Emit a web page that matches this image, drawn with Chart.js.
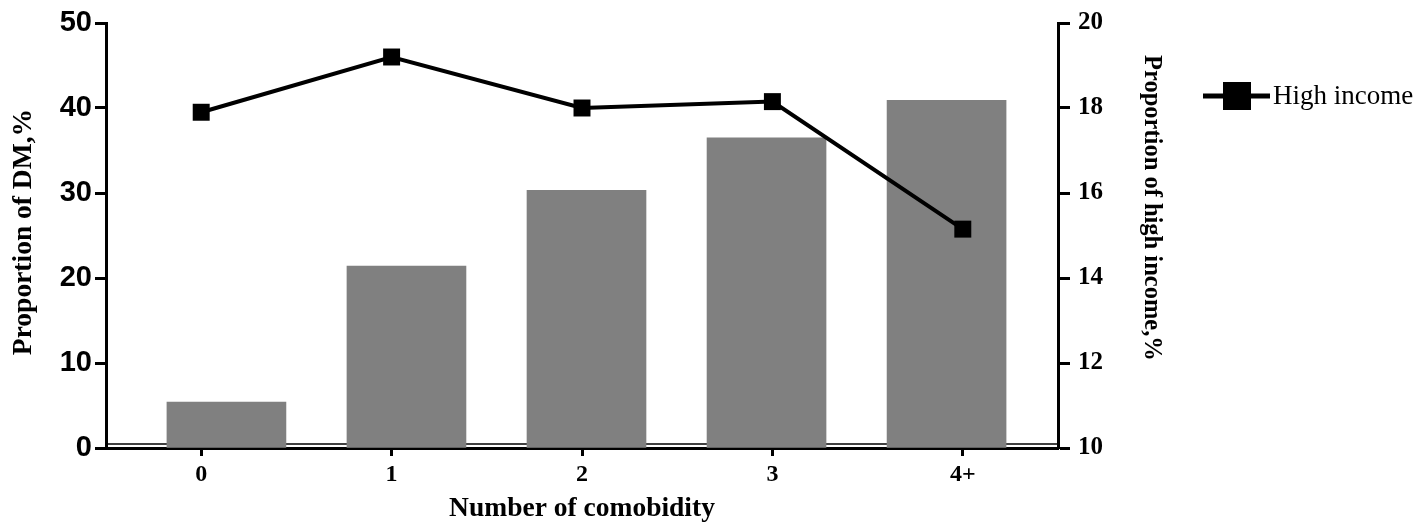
<!DOCTYPE html>
<html>
<head>
<meta charset="utf-8">
<script src="https://cdn.jsdelivr.net/npm/chart.js@4/dist/chart.umd.min.js"></script>
<style>
  html, body { margin: 0; padding: 0; background: #fff; }
  #wrap { width: 1418px; height: 529px; }
</style>
</head>
<body>
<div id="wrap"><canvas id="myChart" width="1418" height="529"></canvas></div>
<script>
// values
var categories = ['0', '1', '2', '3', '4+'];
var dmProportion = [5.4, 21.4, 30.3, 36.5, 40.9];      // bars, left axis
var highIncome = [17.9, 19.2, 18.0, 18.15, 15.15];     // line, right axis
var leftTicks = [0, 10, 20, 30, 40, 50];
var rightTicks = [10, 12, 14, 16, 18, 20];

var serif = "'Liberation Serif', 'Times New Roman', serif";
var sans = "'Liberation Sans', Arial, sans-serif";

// line + square legend on the right, plus the thin second baseline
var extras = {
  id: 'extras',
  beforeDatasetsDraw: function (chart) {
    var c = chart.ctx, a = chart.chartArea;
    c.save();
    c.strokeStyle = '#000';
    c.lineWidth = 1.5;
    c.beginPath();
    c.moveTo(a.left, a.bottom - 4);
    c.lineTo(a.right, a.bottom - 4);
    c.stroke();
    c.restore();
  },
  afterDraw: function (chart) {
    var c = chart.ctx, a = chart.chartArea;
    var x0 = a.right + 145, y = 96;
    c.save();
    c.strokeStyle = '#000';
    c.fillStyle = '#000';
    c.lineWidth = 5;
    c.beginPath();
    c.moveTo(x0, y);
    c.lineTo(x0 + 67, y);
    c.stroke();
    c.fillRect(x0 + 20, y - 14, 28, 28);
    c.font = '27px ' + serif;
    c.textBaseline = 'middle';
    c.fillText(chart.data.datasets[1].label, x0 + 70, y + 1);
    c.restore();
  }
};

var ctx = document.getElementById('myChart').getContext('2d');
var chart = new Chart(ctx, {
  type: 'bar',
  data: {
    labels: categories,
    datasets: [{
      type: 'bar',
      label: 'DM',
      data: dmProportion.map(function (v, i) { return { x: i, y: v }; }),
      xAxisID: 'xb',
      yAxisID: 'yL',
      grouped: false,
      backgroundColor: '#808080',
      barThickness: 119,
      order: 1
    }, {
      type: 'line',
      label: 'High income',
      data: highIncome,
      xAxisID: 'x',
      yAxisID: 'yR',
      borderColor: '#000',
      borderWidth: 4,
      pointStyle: 'rect',
      pointRadius: 12,
      pointHoverRadius: 12,
      pointBackgroundColor: '#000',
      pointBorderWidth: 0,
      tension: 0,
      fill: false,
      order: 0
    }]
  },
  options: {
    responsive: false,
    animation: false,
    events: [],
    layout: { padding: { top: 17, right: 246, left: 0, bottom: 0 } },
    plugins: { legend: { display: false }, tooltip: { enabled: false } },
    scales: {
      x: {
        type: 'category',
        offset: true,
        afterFit: function (s) { s.height = 81; },
        grid: { offset: false, drawOnChartArea: false, drawTicks: true, tickLength: 8, tickWidth: 3, tickColor: '#000', color: '#000' },
        border: { display: true, color: '#000', width: 3 },
        ticks: { color: '#000', padding: 4, font: { family: serif, size: 24, weight: 'bold' } },
        title: { display: true, text: 'Number of comobidity', color: '#000', padding: { top: 4, bottom: 4 }, font: { family: serif, size: 27.5, weight: 'bold' } }
      },
      xb: {
        type: 'linear',
        display: false,
        offset: false,
        min: -0.669,
        max: 4.619,
        grid: { offset: false }
      },
      yL: {
        position: 'left',
        min: 0,
        max: 50,
        afterFit: function (s) { s.width = 106; },
        afterBuildTicks: function (s) { s.ticks = leftTicks.map(function (v) { return { value: v }; }); },
        grid: { drawOnChartArea: false, drawTicks: true, tickLength: 11, tickWidth: 3, tickColor: '#000', color: '#000' },
        border: { display: true, color: '#000', width: 3 },
        ticks: { color: '#000', padding: 3, font: { family: sans, size: 29, weight: 'bold' } },
        title: { display: true, text: ' Proportion of DM,%', color: '#000', padding: { top: 7, bottom: 0 }, font: { family: serif, size: 27.5, weight: 'bold' } }
      },
      yR: {
        position: 'right',
        min: 10,
        max: 20,
        afterFit: function (s) { s.width = 114; },
        afterBuildTicks: function (s) { s.ticks = rightTicks.map(function (v) { return { value: v }; }); },
        grid: { drawOnChartArea: false, drawTicks: true, tickLength: 12, tickWidth: 3, tickColor: '#000', color: '#000' },
        border: { display: true, color: '#000', width: 3 },
        ticks: { color: '#000', padding: 8, font: { family: serif, size: 25, weight: 'bold' } },
        title: { display: true, text: 'Proportion of high income,%         ', color: '#000', padding: { top: 6, bottom: 0 }, font: { family: serif, size: 24.5, weight: 'bold' } }
      }
    }
  },
  plugins: [extras]
});
</script>
</body>
</html>
